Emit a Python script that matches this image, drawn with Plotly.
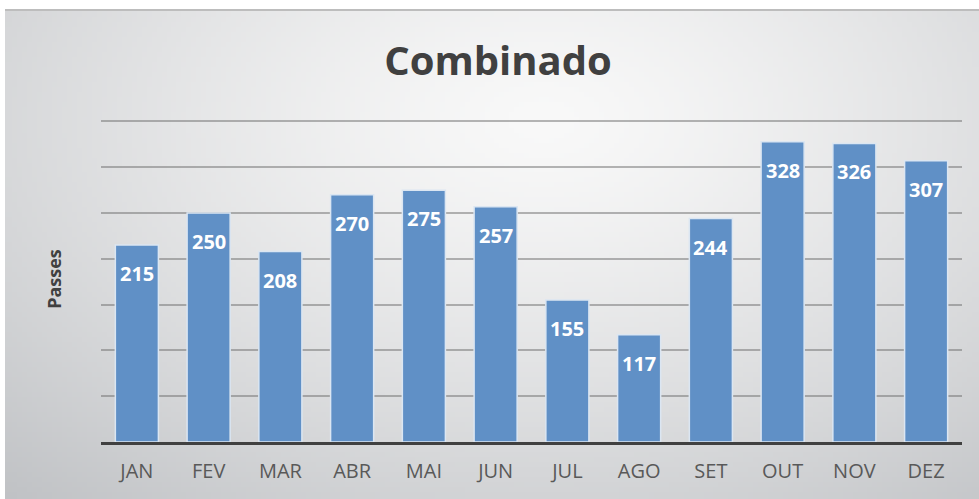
import plotly.graph_objects as go
import zlib, struct, base64, math

months = ["JAN", "FEV", "MAR", "ABR", "MAI", "JUN", "JUL", "AGO", "SET", "OUT", "NOV", "DEZ"]
passes = [215, 250, 208, 270, 275, 257, 155, 117, 244, 328, 326, 307]

# ---- radial gradient background image (style only) ----
def make_png(w, h):
    rows = []
    cx, cy = 0.55 * w, 0.22 * h
    maxd = math.hypot(max(cx, w - cx), max(cy, h - cy) * 1.6)
    for j in range(h):
        row = bytearray([0])
        for i in range(w):
            d = math.hypot(i - cx, (j - cy) * 1.6) / maxd
            d = min(1.0, d)
            t = d ** 1.3
            r = int(249 - (249 - 192) * t)
            g = int(249 - (249 - 194) * t)
            b = int(249 - (249 - 197) * t)
            row += bytes([r, g, b])
        rows.append(bytes(row))
    raw = b"".join(rows)
    def chunk(tag, data):
        c = struct.pack(">I", len(data)) + tag + data
        return c + struct.pack(">I", zlib.crc32(tag + data) & 0xffffffff)
    png = b"\x89PNG\r\n\x1a\n"
    png += chunk(b"IHDR", struct.pack(">IIBBBBB", w, h, 8, 2, 0, 0, 0))
    png += chunk(b"IDAT", zlib.compress(raw, 9))
    png += chunk(b"IEND", b"")
    return "data:image/png;base64," + base64.b64encode(png).decode()

W, H = 979, 499
L, R, T, B = 101, 17, 116, 57
pw, ph = W - L - R, H - T - B

bg = make_png(196, 98)

fig = go.Figure()
fig.add_trace(go.Bar(
    x=months, y=passes,
    marker=dict(color="#6090c6", line=dict(color="#dbe6f2", width=1.5)),
    width=0.6,
    hoverinfo="x+y",
))

for m, v in zip(months, passes):
    fig.add_annotation(x=m, y=v, text=f"<b>{v}</b>", showarrow=False,
                       yanchor="top", yshift=-13,
                       font=dict(family="Open Sans", size=20, color="white"))

fig.add_layout_image(dict(
    source=bg, xref="paper", yref="paper",
    x=(5 - L) / pw, y=(H - B - 10) / ph,
    sizex=(W - 5) / pw, sizey=(H - 10) / ph,
    xanchor="left", yanchor="top", sizing="stretch", layer="below",
))

fig.add_shape(type="line", xref="paper", yref="paper",
              x0=(5 - L) / pw, x1=(W - L) / pw,
              y0=(H - B - 10) / ph, y1=(H - B - 10) / ph,
              line=dict(color="#bdbdbd", width=2), layer="below")

fig.update_layout(
    width=W, height=H,
    margin=dict(l=L, r=R, t=T, b=B),
    paper_bgcolor="white",
    plot_bgcolor="rgba(0,0,0,0)",
    title=dict(text="<b>Combinado</b>", x=498 / W, xanchor="center",
               y=1 - 61 / H, yanchor="middle",
               font=dict(family="Open Sans", size=40, color="#404040")),
    showlegend=False,
    xaxis=dict(showline=True, linecolor="#404040", linewidth=3,
               tickfont=dict(family="Open Sans", size=20, color="#595959"),
               ticks="", showgrid=False, ticklabelstandoff=9),
    yaxis=dict(range=[0, 356], tickvals=[50, 100, 150, 200, 250, 300, 350],
               showticklabels=False,
               gridcolor="rgba(110,110,110,0.5)", gridwidth=1.5,
               zeroline=False,
               title=dict(text="<b>Passes</b>", standoff=33,
                          font=dict(family="Open Sans", size=18, color="#404040"))),
)

fig.write_html("out.html", config={"displayModeBar": False},
               post_script="document.body.style.margin='0';document.body.style.overflow='hidden';")
